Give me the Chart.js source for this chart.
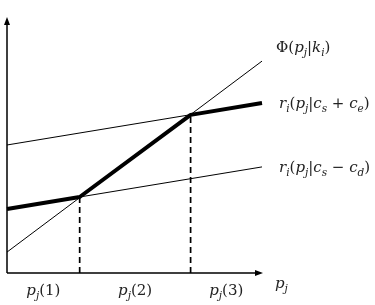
<!DOCTYPE html>
<html lang="en">
<head>
    <meta charset="UTF-8">
    <title>Price regimes</title>
    <script src="https://cdn.jsdelivr.net/npm/chart.js"></script>
    <style>
        html, body { margin: 0; padding: 0; background: #fff; }
        #wrap { width: 375px; height: 305px; }
    </style>
</head>
<body>
<div id="wrap"><canvas id="chart" width="375" height="305"></canvas></div>
<script>
    // line endpoints (x from 0 to 10, y from 0 to 10)
    const phiLine = [{x: 0, y: 0.82}, {x: 10, y: 8.31}];
    const upperLine = [{x: 0, y: 5.02}, {x: 10, y: 6.67}];
    const lowerLine = [{x: 0, y: 2.51}, {x: 10, y: 4.16}];
    // kinked thick response curve
    const response = [{x: 0, y: 2.51}, {x: 2.85, y: 2.98}, {x: 7.2, y: 6.2}, {x: 10, y: 6.67}];
    const breakX = [2.85, 7.2];
    const breakY = [2.98, 6.2];

    const serif = '"DejaVu Serif", "Liberation Serif", serif';

    // parts: [text, isSubscript, isItalic]
    function drawMath(ctx, parts, x, y, size, align) {
        const fontOf = p => (p[2] ? 'italic ' : '') + (p[1] ? size * 0.7 : size) + 'px ' + serif;
        let w = 0;
        parts.forEach(p => {
            ctx.font = fontOf(p);
            w += ctx.measureText(p[0]).width;
        });
        let cx = align === 'center' ? x - w / 2 : x;
        ctx.textAlign = 'left';
        ctx.textBaseline = 'alphabetic';
        parts.forEach(p => {
            ctx.font = fontOf(p);
            ctx.fillText(p[0], cx, p[1] ? y + size * 0.25 : y);
            cx += ctx.measureText(p[0]).width;
        });
    }

    const decorations = {
        id: 'decorations',
        afterDatasetsDraw(chart) {
            const {ctx, scales: {x, y}} = chart;
            const x0 = x.getPixelForValue(0), y0 = y.getPixelForValue(0);
            const xEnd = x.getPixelForValue(10), yEnd = y.getPixelForValue(10);
            ctx.save();
            ctx.strokeStyle = '#000';
            ctx.fillStyle = '#000';
            ctx.lineWidth = 1.5;
            // axes with arrow heads
            ctx.beginPath();
            ctx.moveTo(x0, y0); ctx.lineTo(xEnd - 4, y0);
            ctx.moveTo(x0, y0); ctx.lineTo(x0, yEnd + 4);
            ctx.stroke();
            ctx.beginPath();
            ctx.moveTo(xEnd + 1, y0); ctx.lineTo(xEnd - 7, y0 - 3); ctx.lineTo(xEnd - 7, y0 + 3); ctx.closePath();
            ctx.moveTo(x0, yEnd - 1); ctx.lineTo(x0 - 3, yEnd + 7); ctx.lineTo(x0 + 3, yEnd + 7); ctx.closePath();
            ctx.fill();

            ctx.fillStyle = '#222';
            const s = 15;
            const rx = xEnd + 17;
            drawMath(ctx, [['Φ(', false], ['p', false, true], ['j', true, true], ['|', false], ['k', false, true], ['i', true, true], [')', false]],
                rx - 3, y.getPixelForValue(phiLine[1].y) - 9, s, 'left');
            drawMath(ctx, [['r', false, true], ['i', true, true], ['(', false], ['p', false, true], ['j', true, true], ['|', false],
                ['c', false, true], ['s', true, true], [' + ', false], ['c', false, true], ['e', true, true], [')', false]],
                rx, y.getPixelForValue(upperLine[1].y) + 5, s, 'left');
            drawMath(ctx, [['r', false, true], ['i', true, true], ['(', false], ['p', false, true], ['j', true, true], ['|', false],
                ['c', false, true], ['s', true, true], [' − ', false], ['c', false, true], ['d', true, true], [')', false]],
                rx, y.getPixelForValue(lowerLine[1].y) + 5, s, 'left');

            // regime labels under the axis
            const edges = [0, breakX[0], breakX[1], 10];
            ['1', '2', '3'].forEach((n, i) => {
                const cx = (x.getPixelForValue(edges[i]) + x.getPixelForValue(edges[i + 1])) / 2;
                drawMath(ctx, [['p', false, true], ['j', true, true], ['(' + n + ')', false]], cx, y0 + 22, s, 'center');
            });
            drawMath(ctx, [['p', false, true], ['j', true, true]], xEnd + 13, y0 + 15, s, 'left');
            ctx.restore();
        }
    };

    const dashed = breakX.map((bx, i) => ({
        data: [{x: bx, y: 0}, {x: bx, y: breakY[i]}],
        borderColor: '#000', borderWidth: 1.7, borderDash: [6, 4], pointRadius: 0, clip: false
    }));

    new Chart(document.getElementById('chart'), {
        type: 'line',
        data: {
            datasets: [
                {data: phiLine, borderColor: '#000', borderWidth: 1, pointRadius: 0, clip: false},
                {data: upperLine, borderColor: '#000', borderWidth: 1, pointRadius: 0, clip: false},
                {data: lowerLine, borderColor: '#000', borderWidth: 1, pointRadius: 0, clip: false},
                {data: response, borderColor: '#000', borderWidth: 4, pointRadius: 0, clip: false, borderJoinStyle: 'round'},
                ...dashed
            ]
        },
        options: {
            responsive: false,
            animation: false,
            events: [],
            layout: {padding: {left: 7, right: 113, top: 18, bottom: 32}},
            plugins: {legend: {display: false}, tooltip: {enabled: false}},
            scales: {
                x: {type: 'linear', min: 0, max: 10, display: false},
                y: {type: 'linear', min: 0, max: 10, display: false}
            }
        },
        plugins: [decorations]
    });
</script>
</body>
</html>
